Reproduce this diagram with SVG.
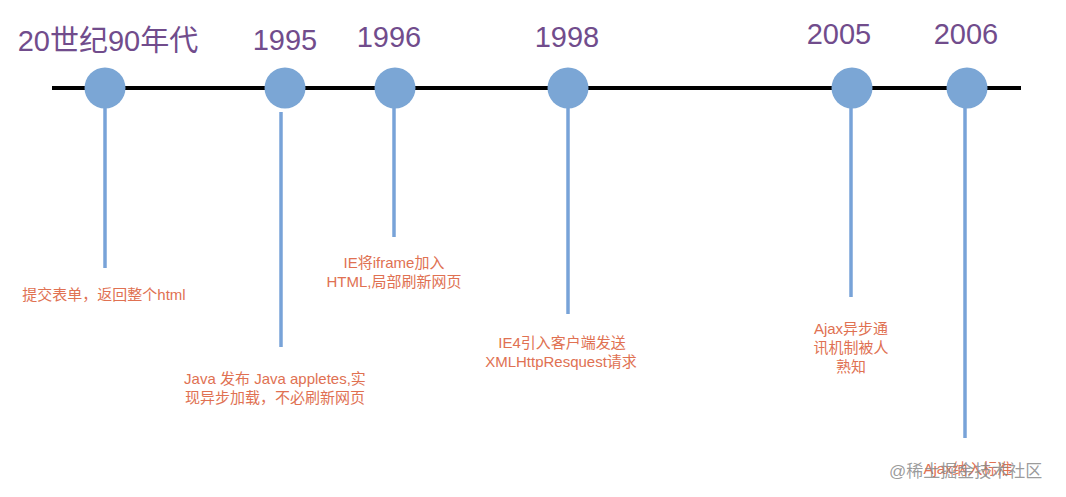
<svg xmlns="http://www.w3.org/2000/svg" width="1066" height="497" viewBox="0 0 1066 497">
<style>
.yr{font-family:"Liberation Sans","Noto Sans CJK SC",sans-serif;font-size:29px;fill:#714c8c;text-anchor:middle}
.desc{font-family:"Liberation Sans","Noto Sans CJK SC",sans-serif;font-size:15px;fill:#e07152;text-anchor:middle}
.dot{fill:#7ba6d5}
.stem{stroke:#78a3d8;stroke-width:3.5;fill:none}
.wm{font-family:"Liberation Sans","Noto Sans CJK SC",sans-serif;font-size:17px;fill:#8a8a8a;fill-opacity:0.85}
</style>
<rect width="1066" height="497" fill="#ffffff"/>
<g id="connectors">
<line x1="52" y1="88" x2="1021" y2="88" stroke="#000" stroke-width="4"/>
<line class="stem" x1="105" y1="105" x2="105" y2="268"/>
<line class="stem" x1="281" y1="112" x2="281" y2="347"/>
<line class="stem" x1="394" y1="105" x2="394" y2="237"/>
<line class="stem" x1="568" y1="105" x2="568" y2="314"/>
<line class="stem" x1="851" y1="105" x2="851" y2="297"/>
<line class="stem" x1="965" y1="105" x2="965" y2="438"/>
</g>
<g id="n1990s">
<circle class="dot" cx="105" cy="88" r="20.5"/>
<text class="yr" x="108" y="51">20世纪90年代</text>
<text class="desc" x="104" y="300">提交表单，返回整个html</text>
</g>
<g id="n1995">
<circle class="dot" cx="285" cy="88" r="20.5"/>
<text class="yr" x="285" y="50">1995</text>
<text class="desc" x="275" y="384">Java 发布 Java appletes,实</text>
<text class="desc" x="275" y="403">现异步加载，不必刷新网页</text>
</g>
<g id="n1996">
<circle class="dot" cx="395" cy="88" r="20.5"/>
<text class="yr" x="389" y="47">1996</text>
<text class="desc" x="394" y="268">IE将iframe加入</text>
<text class="desc" x="394" y="287">HTML,局部刷新网页</text>
</g>
<g id="n1998">
<circle class="dot" cx="568" cy="88" r="20.5"/>
<text class="yr" x="567" y="47">1998</text>
<text class="desc" x="562" y="348">IE4引入客户端发送</text>
<text class="desc" x="561" y="367">XMLHttpResquest请求</text>
</g>
<g id="n2005">
<circle class="dot" cx="852" cy="88" r="20.5"/>
<text class="yr" x="839" y="44">2005</text>
<text class="desc" x="851" y="334">Ajax异步通</text>
<text class="desc" x="851" y="353">讯机制被人</text>
<text class="desc" x="851" y="372">熟知</text>
</g>
<g id="n2006">
<circle class="dot" cx="967" cy="88" r="20.5"/>
<text class="yr" x="966" y="44">2006</text>
<text class="desc" x="968" y="474">Ajax纳入标准</text>
</g>
<text class="wm" x="889" y="477">@稀土掘金技术社区</text>
</svg>
